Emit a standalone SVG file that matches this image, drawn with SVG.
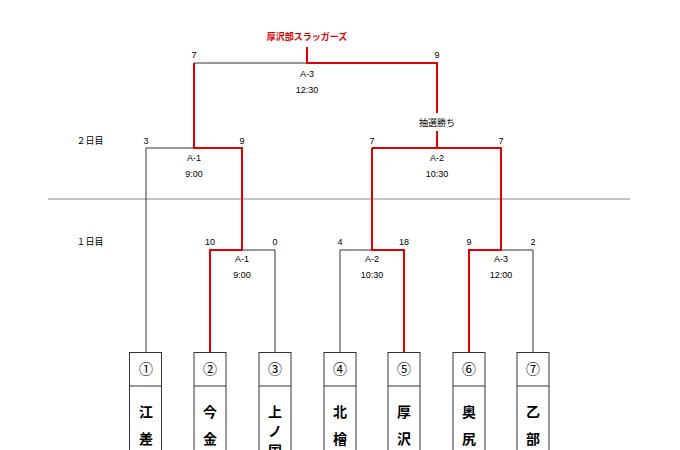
<svg xmlns="http://www.w3.org/2000/svg" width="680" height="450" viewBox="0 0 680 450">
<style>
text{font-family:"Liberation Sans","Noto Sans CJK JP",sans-serif;font-size:9px;fill:#000;text-anchor:middle}
.k{stroke:#333;stroke-width:1;fill:none}
.r{stroke:#e00000;stroke-width:2;fill:none}
.box{fill:#fff;stroke:#333;stroke-width:1}
.n{font-size:14px;font-family:"Noto Sans CJK JP","DejaVu Sans",sans-serif;fill:#000}
.t{font-size:14px;font-weight:bold}
</style>
<rect width="680" height="450" fill="#fff"/>
<line x1="48" y1="199" x2="630" y2="199" stroke="#888" stroke-width="1"/>
<text x="90" y="144">２日目</text>
<text x="90" y="245">１日目</text>
<g id="connectors">
<path class="k" d="M146 352V148H194M194 63H307M242 250H275V352M340 352V250H372M501 250H533V352"/>
<path class="r" d="M307 47V63H437V113M437 131V148M372 148H501V250H469V352M194 63V148H242V250H210V352M372 148V250H404V352"/>
</g>
<text x="307" y="40" style="fill:#e00000;font-weight:bold">厚沢部スラッガーズ</text>
<text x="194" y="58">7</text><text x="437" y="58">9</text>
<text x="307" y="77">A-3</text><text x="307" y="93">12:30</text>
<text x="437" y="126">抽選勝ち</text>
<text x="146" y="144">3</text><text x="242" y="144">9</text><text x="372" y="144">7</text><text x="501" y="144">7</text>
<text x="194" y="161">A-1</text><text x="194" y="177">9:00</text>
<text x="437" y="161">A-2</text><text x="437" y="177">10:30</text>
<text x="210" y="245">10</text><text x="275" y="245">0</text><text x="340" y="245">4</text><text x="404" y="245">18</text><text x="469" y="245">9</text><text x="533" y="245">2</text>
<text x="242" y="262">A-1</text><text x="242" y="278">9:00</text>
<text x="372" y="262">A-2</text><text x="372" y="278">10:30</text>
<text x="501" y="262">A-3</text><text x="501" y="278">12:00</text>
<g id="t1"><rect class="box" x="129.5" y="352.5" width="32" height="110"/><line class="k" x1="129.5" y1="386" x2="161.5" y2="386"/><text class="n" x="146" y="374">①</text><text class="t" x="146" y="417">江</text><text class="t" x="146" y="444">差</text></g>
<g id="t2"><rect class="box" x="194" y="352.5" width="32" height="110"/><line class="k" x1="194" y1="386" x2="226" y2="386"/><text class="n" x="210" y="374">②</text><text class="t" x="210" y="417">今</text><text class="t" x="210" y="444">金</text></g>
<g id="t3"><rect class="box" x="259" y="352.5" width="32" height="110"/><line class="k" x1="259" y1="386" x2="291" y2="386"/><text class="n" x="275" y="374">③</text><text class="t" x="275" y="417">上</text><text class="t" x="275" y="436">ノ</text><text class="t" x="275" y="456">国</text></g>
<g id="t4"><rect class="box" x="324" y="352.5" width="32" height="110"/><line class="k" x1="324" y1="386" x2="356" y2="386"/><text class="n" x="340" y="374">④</text><text class="t" x="340" y="417">北</text><text class="t" x="340" y="444">檜</text></g>
<g id="t5"><rect class="box" x="388" y="352.5" width="32" height="110"/><line class="k" x1="388" y1="386" x2="420" y2="386"/><text class="n" x="404" y="374">⑤</text><text class="t" x="404" y="417">厚</text><text class="t" x="404" y="444">沢</text></g>
<g id="t6"><rect class="box" x="453" y="352.5" width="32" height="110"/><line class="k" x1="453" y1="386" x2="485" y2="386"/><text class="n" x="469" y="374">⑥</text><text class="t" x="469" y="417">奥</text><text class="t" x="469" y="444">尻</text></g>
<g id="t7"><rect class="box" x="517" y="352.5" width="32" height="110"/><line class="k" x1="517" y1="386" x2="549" y2="386"/><text class="n" x="533" y="374">⑦</text><text class="t" x="533" y="417">乙</text><text class="t" x="533" y="444">部</text></g>
</svg>
